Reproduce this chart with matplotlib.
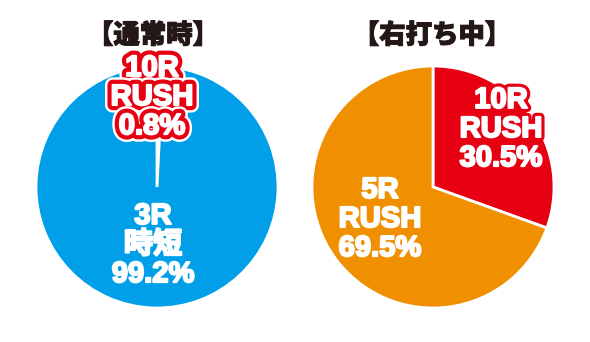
import matplotlib.pyplot as plt
import matplotlib.patheffects as pe

plt.rcParams['font.family'] = ['Liberation Sans', 'Noto Sans CJK JP']

# data
titles = ["【通常時】", "【右打ち中】"]
normal_labels = ["10R\nRUSH", "3R\n時短"]
normal_values = [0.8, 99.2]
right_labels = ["10R\nRUSH", "5R\nRUSH"]
right_values = [30.5, 69.5]

RED = "#E60012"
BLUE = "#009FE8"
ORANGE = "#F08F00"

fig = plt.figure(figsize=(5.9, 3.42), dpi=100)
ax = fig.add_axes([0, 0, 1, 1])

wp = dict(edgecolor="white", linewidth=2)
ax.pie(normal_values, colors=[RED, BLUE], startangle=90, counterclock=False,
       center=(157, 155), radius=121, wedgeprops=wp, frame=True)
ax.pie(right_values, colors=[RED, ORANGE], startangle=90, counterclock=False,
       center=(433, 155), radius=121, wedgeprops=wp, frame=True)
ax.set_xlim(0, 590)
ax.set_ylim(0, 342)
ax.set_aspect("equal")
ax.axis("off")

for x, t in zip([153, 432], titles):
    ax.text(x, 307, t, ha="center", va="center", fontsize=19,
            fontweight="black", color="#231815",
            family=["Noto Sans CJK JP", "DejaVu Sans"],
            path_effects=[pe.Stroke(linewidth=0.8, foreground="#231815"),
                          pe.Normal()])

txt = dict(ha="center", va="center", fontsize=21, fontweight="bold",
           color="white", linespacing=1.05)

# thicken the white glyphs a little
fat = [pe.Stroke(linewidth=1.5, foreground="white"), pe.Normal()]

# small 10R slice label, outlined red + white
ax.text(152, 245, f"{normal_labels[0]}\n{normal_values[0]}%",
        path_effects=[pe.Stroke(linewidth=11, foreground="white"),
                      pe.Stroke(linewidth=7.5, foreground=RED),
                      pe.Stroke(linewidth=1.5, foreground="white"),
                      pe.Normal()],
        **txt)
ax.text(153, 97, f"{normal_labels[1]}\n{normal_values[1]}%",
        path_effects=fat, **txt)

ax.text(501, 213, f"{right_labels[0]}\n{right_values[0]}%",
        path_effects=[pe.Stroke(linewidth=6, foreground=RED),
                      pe.Stroke(linewidth=1.5, foreground="white"),
                      pe.Normal()],
        **txt)
ax.text(380, 123, f"{right_labels[1]}\n{right_values[1]}%",
        path_effects=fat, **txt)

fig.savefig("out.png", dpi=100)
